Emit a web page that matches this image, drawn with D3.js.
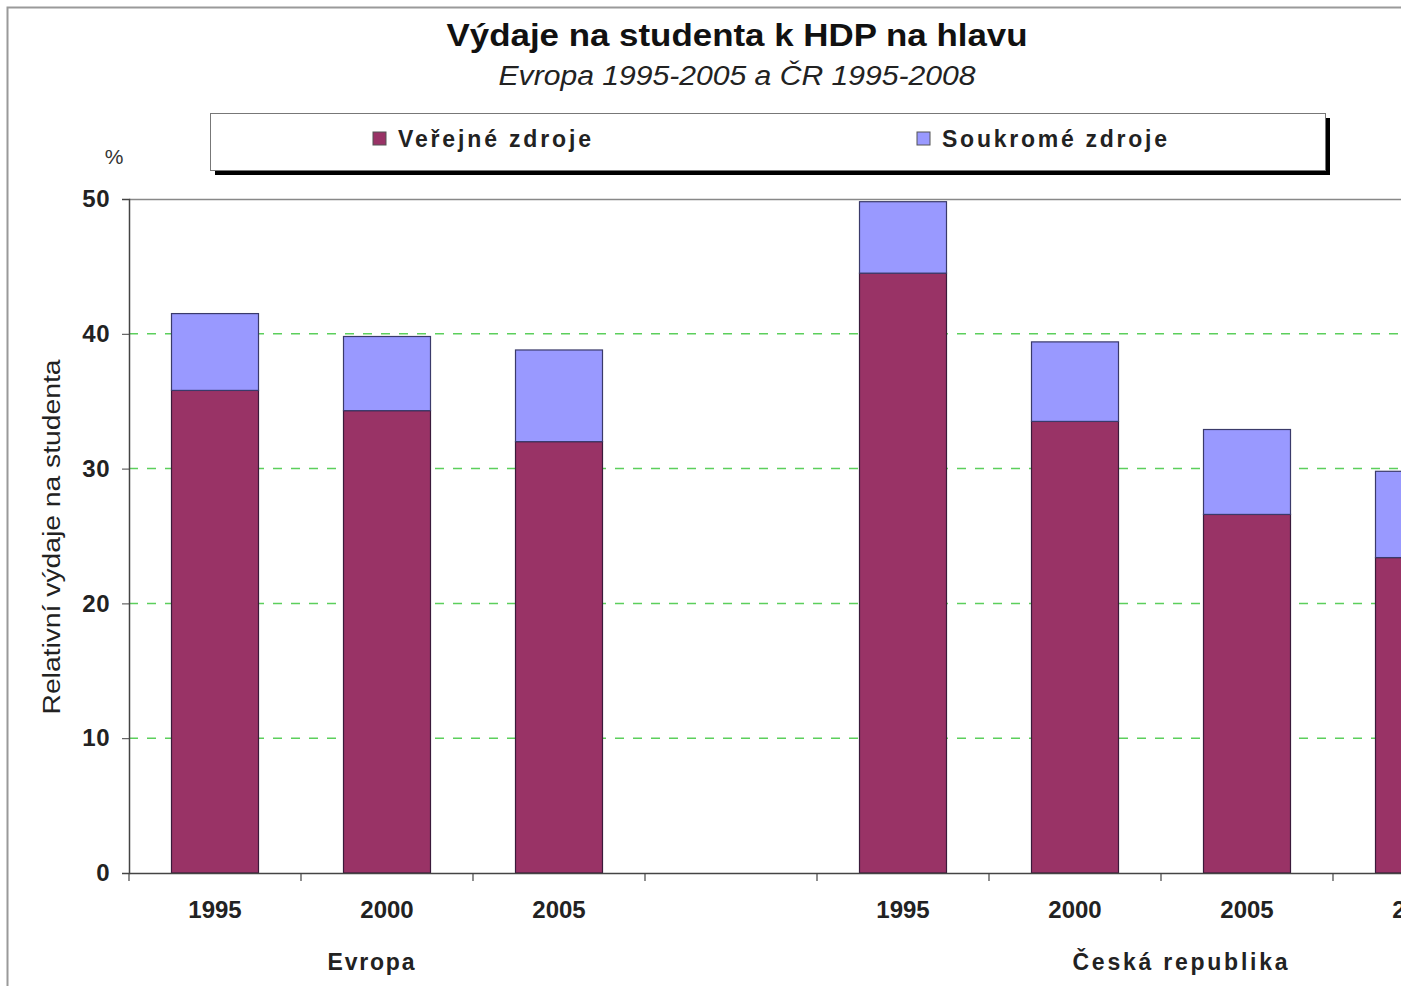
<!DOCTYPE html>
<html><head><meta charset="utf-8">
<script src="https://cdn.jsdelivr.net/npm/d3@7"></script>
<style>body{margin:0;background:#fff}svg{display:block}text{font-family:"Liberation Sans",Arial,sans-serif}</style>
</head><body>
<svg id="c" width="1401" height="986"></svg>
<script>
const categories = ["E1995","E2000","E2005","gap","C1995","C2000","C2005","C2008"];
const yearLabels = ["1995","2000","2005","","1995","2000","2005","2008"];
const publicValues = [35.8, 34.3, 32.0, null, 44.5, 33.5, 26.6, 23.4];
const privateValues = [5.7, 5.5, 6.8, null, 5.3, 5.9, 6.3, 6.4];
const groups = [{name:"Evropa", from:0, to:2}, {name:"Česká republika", from:4, to:7}];
const yTicks = [0,10,20,30,40,50];
const seriesNames = ["Veřejné zdroje","Soukromé zdroje"];
const colors = ["#993366","#9999ff"];

(function(){
const svg = d3.select("#c");
const pLeft = 129, pTop = 199, pBottom = 873, pRight = 1505;
const x = d3.scaleBand().domain(categories).range([pLeft, pRight]).paddingInner(0).paddingOuter(0);
const y = d3.scaleLinear().domain([0,50]).range([pBottom, pTop]);
const FONT = "Liberation Sans, Arial, sans-serif";

// outer border
svg.append("rect").attr("x",7.5).attr("y",7.5).attr("width",1420).attr("height",1000)
  .attr("fill","none").attr("stroke","#9a9a9a").attr("stroke-width",2);

// title
svg.append("text").attr("x",737).attr("y",46).attr("text-anchor","middle")
  .attr("font-size",32).attr("font-weight","bold").attr("fill","#111")
  .attr("textLength",581).attr("lengthAdjust","spacingAndGlyphs").text("Výdaje na studenta k HDP na hlavu");
svg.append("text").attr("x",737).attr("y",85).attr("text-anchor","middle")
  .attr("font-size",27).attr("font-style","italic").attr("fill","#222")
  .attr("textLength",477).attr("lengthAdjust","spacingAndGlyphs").text("Evropa 1995-2005 a ČR 1995-2008");

// legend
svg.append("rect").attr("x",215).attr("y",118).attr("width",1115).attr("height",57).attr("fill","#000");
svg.append("rect").attr("x",210.5).attr("y",113.5).attr("width",1115).attr("height",57).attr("fill","#fff").attr("stroke","#777").attr("stroke-width",1);
const legX = [373, 917];
const legW = [193, 225];
seriesNames.forEach((n,i)=>{
  svg.append("rect").attr("x",legX[i]).attr("y",132).attr("width",13).attr("height",13)
    .attr("fill",colors[i]).attr("stroke","#555").attr("stroke-width",1);
  svg.append("text").attr("x",legX[i]+25).attr("y",147).attr("font-size",23).attr("font-weight","bold")
    .attr("textLength",legW[i]).attr("lengthAdjust","spacing").attr("fill","#222").text(n);
});

// plot border top
svg.append("line").attr("x1",pLeft).attr("x2",1401).attr("y1",pTop+0.5).attr("y2",pTop+0.5).attr("stroke","#888").attr("stroke-width",1.5);

// gridlines
svg.append("g").selectAll("line").data(yTicks.filter(d=>d>0&&d<50)).join("line")
  .attr("x1",pLeft).attr("x2",1401).attr("y1",d=>y(d)).attr("y2",d=>y(d))
  .attr("stroke","#5ccf5c").attr("stroke-width",1.5).attr("stroke-dasharray","9,9");

// bars
const bw = 87;
const stackData = categories.map((c,i)=>({c, p:publicValues[i], s:privateValues[i]})).filter(d=>d.p!=null);
const bars = svg.append("g");
stackData.forEach(d=>{
  const cx = x(d.c) + x.bandwidth()/2;
  bars.append("rect").attr("x",cx-bw/2).attr("y",y(d.p)).attr("width",bw).attr("height",y(0)-y(d.p))
    .attr("fill",colors[0]).attr("stroke","#3a1a3a").attr("stroke-width",1.2);
  bars.append("rect").attr("x",cx-bw/2).attr("y",y(d.p+d.s)).attr("width",bw).attr("height",y(d.p)-y(d.p+d.s))
    .attr("fill",colors[1]).attr("stroke","#3a3a6a").attr("stroke-width",1.2);
});

// y axis
const ya = svg.append("g").attr("transform",`translate(${pLeft},0)`)
  .call(d3.axisLeft(y).tickValues(yTicks).tickSize(7).tickPadding(12));
ya.select(".domain").attr("stroke","#444").attr("stroke-width",1.5);
ya.selectAll(".tick line").attr("stroke","#444");
ya.selectAll("text").attr("font-size",24).attr("font-weight","bold").attr("fill","#222")
  .attr("letter-spacing","0.5").attr("font-family",FONT);

// x axis
const xa = svg.append("g").attr("transform",`translate(0,${pBottom})`)
  .call(d3.axisBottom(x).tickFormat((d,i)=>yearLabels[i]).tickSize(0).tickPadding(28));
xa.select(".domain").attr("stroke","#444").attr("stroke-width",1.5);
xa.selectAll("text").attr("font-size",24).attr("font-weight","bold").attr("fill","#222")
  .attr("font-family",FONT);
// boundary ticks
svg.append("g").selectAll("line").data(categories).join("line")
  .attr("x1",d=>x(d)).attr("x2",d=>x(d)).attr("y1",pBottom).attr("y2",pBottom+8)
  .attr("stroke","#444").attr("stroke-width",1.2);

// group labels
const groupOffset = [-16, 19];
const groupW = [87, 215];
groups.forEach((g,i)=>{
  const cx = (x(categories[g.from]) + x(categories[g.to]) + x.bandwidth())/2 + groupOffset[i];
  svg.append("text").attr("x",cx).attr("y",970).attr("text-anchor","middle")
    .attr("font-size",23).attr("font-weight","bold").attr("textLength",groupW[i]).attr("lengthAdjust","spacing")
    .attr("fill","#222").text(g.name);
});

// axis titles
svg.append("text").attr("x",114).attr("y",164).attr("text-anchor","middle").attr("font-size",21).attr("fill","#333").text("%");
svg.append("text").attr("transform","translate(60,537) rotate(-90)").attr("text-anchor","middle")
  .attr("font-size",23).attr("fill","#222").attr("textLength",355).attr("lengthAdjust","spacingAndGlyphs")
  .text("Relativní výdaje na studenta");
})();
</script>
</body></html>
